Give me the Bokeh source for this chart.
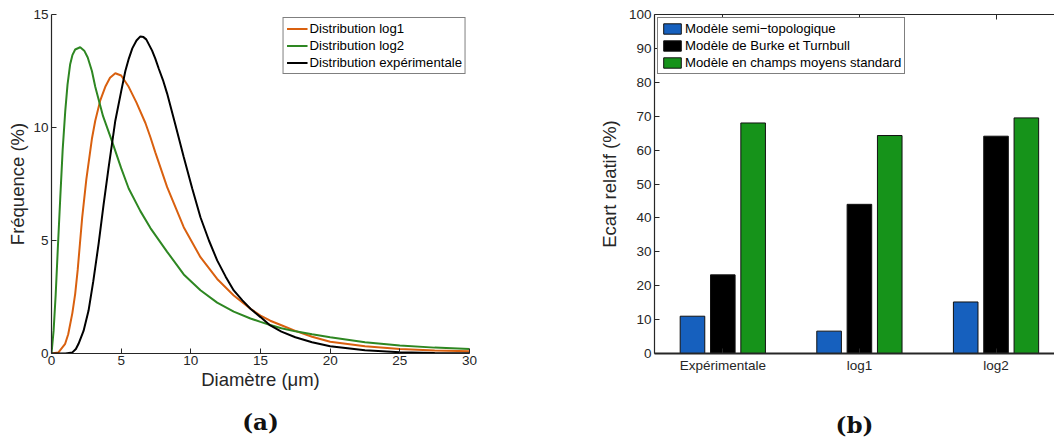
from bokeh.plotting import figure
from bokeh.layouts import row
from bokeh.models import Range1d, FixedTicker, LinearAxis, ColumnDataSource
from bokeh.transform import dodge
from bokeh.embed import file_html
from bokeh.resources import INLINE

# ---------------- data: panel (a) ----------------
log1_x = [0, 0.5, 0.98, 1.2, 1.5, 1.7, 1.88, 2.06, 2.2, 2.5, 2.9, 3.14, 3.5, 3.86, 4.2, 4.58, 5.0,
          5.54, 6.1, 6.74, 7.1, 7.45, 8.3, 9.49, 10.69, 11.89, 13.08, 14.28, 15.0, 15.7, 16.5,
          17.5, 18.7, 20.0, 22.5, 25.0, 27.5, 30.0]
log1_y = [0, 0.05, 0.43, 0.85, 1.8, 2.64, 3.7, 5.0, 6.0, 7.7, 9.5, 10.3, 11.2, 11.8, 12.2, 12.4, 12.3,
          11.8, 11.1, 10.2, 9.57, 8.9, 7.36, 5.59, 4.26, 3.3, 2.57, 1.98, 1.68, 1.45, 1.25,
          1.0, 0.74, 0.52, 0.32, 0.2, 0.13, 0.1]

log2_x = [0, 0.15, 0.3, 0.45, 0.63, 0.8, 0.99, 1.15, 1.34, 1.5, 1.7, 2.06, 2.35, 2.6, 2.9, 3.14, 3.7,
          4.34, 5.0, 5.54, 6.38, 7.1, 8.3, 9.49, 10.69, 11.89, 13.08, 14.28, 15.0, 15.7, 16.5, 17.5,
          18.7, 20.0, 22.5, 25.0, 27.5, 30.0]
log2_y = [0, 1.0, 2.6, 4.6, 6.9, 9.0, 10.75, 11.9, 12.8, 13.2, 13.45, 13.55, 13.4, 13.1, 12.5, 11.8, 10.5,
          9.4, 8.2, 7.3, 6.3, 5.55, 4.5, 3.5, 2.8, 2.25, 1.85, 1.55, 1.4, 1.26, 1.12, 0.98,
          0.85, 0.72, 0.5, 0.35, 0.26, 0.2]

exp_x = [0, 1.0, 1.5, 1.75, 1.94, 2.3, 2.66, 3.0, 3.38, 3.74, 4.1, 4.58, 5.0, 5.3, 5.55, 5.8, 6.1, 6.38,
         6.6, 6.8, 7.22, 7.45, 7.7, 8.0, 8.3, 8.9, 9.49, 10.1, 10.69, 11.3, 11.89, 12.5, 13.08, 13.7,
         14.28, 15.0, 15.7, 16.5, 17.5, 18.7, 20.0, 22.5, 25.0, 27.5, 30.0]
exp_y = [0, 0, 0.05, 0.2, 0.43, 1.0, 1.9, 3.2, 4.85, 6.6, 8.24, 10.3, 11.6, 12.5, 13.05, 13.5, 13.85, 14.03,
         14.0, 13.9, 13.4, 13.05, 12.6, 12.1, 11.5, 10.1, 8.69, 7.3, 6.03, 5.0, 4.12, 3.4, 2.79, 2.35,
         1.98, 1.61, 1.24, 0.97, 0.72, 0.5, 0.32, 0.14, 0.06, 0.02, 0.01]

a_xticks = [0, 5, 10, 15, 20, 25, 30]
a_yticks = [0, 5, 10, 15]

# ---------------- data: panel (b) ----------------
categories = ["Expérimentale", "log1", "log2"]
cat_pos = [1, 2, 3]
semi_topo = [11.0, 6.6, 15.2]
burke_turnbull = [23.2, 44.0, 64.1]
champs_moyens = [68.0, 64.3, 69.5]
b_yticks = [0, 10, 20, 30, 40, 50, 60, 70, 80, 90, 100]

FONT = "Liberation Sans"
AX = "#262626"
ORANGE = "#d9600f"
GREEN_L = "#2e8722"
BLUE = "#1660be"
GREEN_B = "#16931a"
TICK_FS = "13.5px"
LABEL_FS = "18.5px"
LEG_FS = "13.2px"


def style_axis(ax):
    ax.axis_line_color = AX
    ax.axis_line_width = 1.2
    ax.major_tick_line_color = AX
    ax.major_tick_in = 5
    ax.major_tick_out = 0
    ax.minor_tick_line_color = None
    ax.major_label_text_font = FONT
    ax.major_label_text_font_size = TICK_FS
    ax.major_label_text_color = AX
    ax.axis_label_text_font = FONT
    ax.axis_label_text_font_size = LABEL_FS
    ax.axis_label_text_font_style = "normal"
    ax.axis_label_text_color = AX


def style_legend(lg, gw, gh):
    lg.margin = 3
    lg.padding = 3
    lg.spacing = 2
    lg.glyph_width = gw
    lg.glyph_height = gh
    lg.label_height = 15
    lg.label_standoff = 2
    lg.label_text_font = FONT
    lg.label_text_font_size = LEG_FS
    lg.label_text_color = "black"
    lg.border_line_color = "black"
    lg.border_line_width = 1.5
    lg.background_fill_alpha = 1.0


def caption_axis(text, standoff):
    """An axis with no line, ticks or tick labels: only its label, used as the panel caption."""
    ax = LinearAxis(ticker=FixedTicker(ticks=[]), axis_label=text)
    ax.axis_line_color = None
    ax.major_tick_line_color = None
    ax.minor_tick_line_color = None
    ax.major_label_standoff = 0
    ax.major_label_text_font_size = "1px"
    ax.major_label_text_color = None
    ax.axis_label_standoff = standoff
    ax.axis_label_text_font = "DejaVu Serif"
    ax.axis_label_text_font_style = "bold"
    ax.axis_label_text_font_size = "23px"
    ax.axis_label_text_color = "#111111"
    return ax


# ---------------- panel (a) ----------------
p1 = figure(width=595, height=441, min_border_left=51, min_border_right=126,
            min_border_top=14, min_border_bottom=88,
            x_range=Range1d(0, 30), y_range=Range1d(0, 15),
            output_backend="svg", toolbar_location=None)
p1.outline_line_color = None
p1.grid.visible = False

p1.line(log1_x, log1_y, line_color=ORANGE, line_width=2, legend_label="Distribution log1")
p1.line(log2_x, log2_y, line_color=GREEN_L, line_width=2, legend_label="Distribution log2")
p1.line(exp_x, exp_y, line_color="black", line_width=2, legend_label="Distribution expérimentale")

p1.xaxis.ticker = FixedTicker(ticks=a_xticks)
p1.yaxis.ticker = FixedTicker(ticks=a_yticks)
for ax in p1.xaxis + p1.yaxis:
    style_axis(ax)
p1.xaxis.axis_label = "Diamètre (μm)"
p1.yaxis.axis_label = "Fréquence (%)"
p1.xaxis.major_label_standoff = 2
p1.yaxis.major_label_standoff = 3
p1.xaxis.axis_label_standoff = 1
p1.yaxis.axis_label_standoff = 2

p1.legend[0].location = "top_right"
style_legend(p1.legend[0], 21, 15)

p1.add_layout(caption_axis("(a)", 15), "below")

# ---------------- panel (b) ----------------
src = ColumnDataSource(dict(x=cat_pos, semi=semi_topo, burke=burke_turnbull, champs=champs_moyens))

p2 = figure(width=459, height=441, min_border_left=52, min_border_right=0,
            min_border_top=14, min_border_bottom=88,
            x_range=Range1d(0.5, 3.428), y_range=Range1d(0, 100),
            output_backend="svg", toolbar_location=None)
p2.outline_line_color = None
p2.grid.visible = False

bw = 0.18
p2.vbar(x=dodge("x", -0.222), top="semi", width=bw, source=src, fill_color=BLUE,
        line_color="#111111", line_width=1, legend_label="Modèle semi\u2212topologique")
p2.vbar(x=dodge("x", 0.0), top="burke", width=bw, source=src, fill_color="black",
        line_color="#111111", line_width=1, legend_label="Modèle de Burke et Turnbull")
p2.vbar(x=dodge("x", 0.222), top="champs", width=bw, source=src, fill_color=GREEN_B,
        line_color="#111111", line_width=1, legend_label="Modèle en champs moyens standard")

p2.xaxis.ticker = FixedTicker(ticks=cat_pos)
p2.xaxis.major_label_overrides = {p: c for p, c in zip(cat_pos, categories)}
p2.yaxis.ticker = FixedTicker(ticks=b_yticks)
for ax in p2.xaxis + p2.yaxis:
    style_axis(ax)
p2.xaxis.major_label_standoff = 4
p2.yaxis.major_label_standoff = 3
p2.xaxis.axis_line_width = 2
p2.yaxis.axis_label = "Ecart relatif (%)"
p2.yaxis.axis_label_standoff = 6

top_ax = LinearAxis(ticker=FixedTicker(ticks=cat_pos))
style_axis(top_ax)
top_ax.major_label_text_font_size = "1px"
top_ax.major_label_text_color = None
top_ax.major_label_standoff = 0
p2.add_layout(top_ax, "above")

p2.legend[0].location = "top_left"
style_legend(p2.legend[0], 22, 13)

p2.add_layout(caption_axis("(b)", 35), "below")

layout = row(p1, p2)
open("out.html", "w").write(file_html(layout, INLINE))
